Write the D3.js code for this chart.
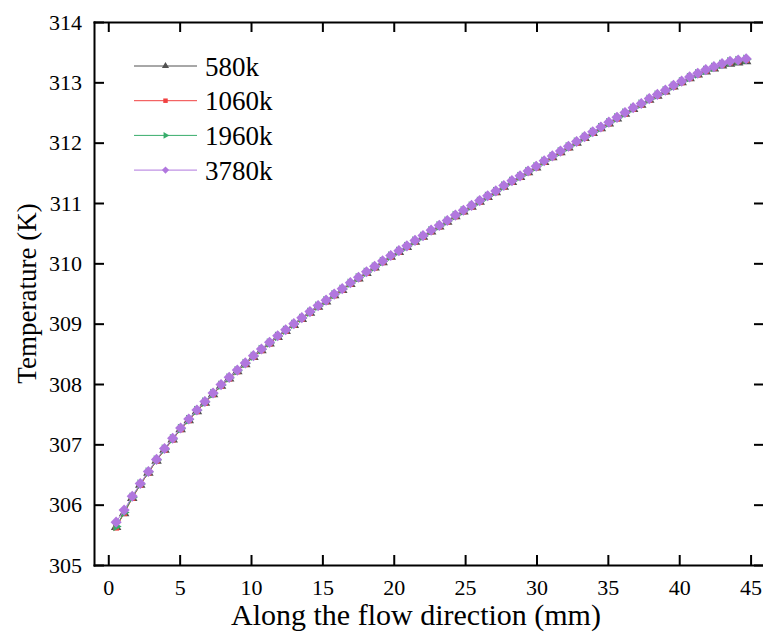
<!DOCTYPE html>
<meta charset="utf-8">
<script src="https://d3js.org/d3.v7.min.js"></script>
<style>
  body { margin: 0; background: #fff; }
  text { font-family: "Liberation Serif", "Times New Roman", serif; fill: #000; }
</style>
<body>
<div id="chart"></div>
<script>

// positions along the flow direction (mm)
var xs = [0.55, 1.11, 1.68, 2.24, 2.81, 3.38, 3.94, 4.51, 5.07, 5.64,
  6.21, 6.77, 7.34, 7.90, 8.47, 9.04, 9.60, 10.17, 10.73, 11.30,
  11.87, 12.43, 13.00, 13.56, 14.13, 14.70, 15.26, 15.83, 16.39, 16.96,
  17.53, 18.09, 18.66, 19.22, 19.79, 20.36, 20.92, 21.49, 22.05, 22.62,
  23.19, 23.75, 24.32, 24.88, 25.45, 26.02, 26.58, 27.15, 27.71, 28.28,
  28.85, 29.41, 29.98, 30.54, 31.11, 31.68, 32.24, 32.81, 33.37, 33.94,
  34.51, 35.07, 35.64, 36.20, 36.77, 37.34, 37.90, 38.47, 39.03, 39.60,
  40.17, 40.73, 41.30, 41.86, 42.43, 43.00, 43.56, 44.13, 44.69];

// temperature (K) for each mesh
var t580 = [305.63, 305.86, 306.11, 306.33, 306.53, 306.73, 306.91, 307.08, 307.25, 307.40,
  307.55, 307.69, 307.83, 307.97, 308.09, 308.21, 308.33, 308.45, 308.56, 308.67,
  308.78, 308.88, 308.98, 309.08, 309.18, 309.28, 309.37, 309.47, 309.56, 309.66,
  309.75, 309.84, 309.93, 310.02, 310.11, 310.19, 310.27, 310.36, 310.44, 310.53,
  310.61, 310.69, 310.78, 310.86, 310.94, 311.02, 311.10, 311.18, 311.27, 311.35,
  311.43, 311.51, 311.59, 311.68, 311.76, 311.84, 311.92, 312.00, 312.08, 312.16,
  312.24, 312.32, 312.40, 312.48, 312.56, 312.63, 312.71, 312.78, 312.85, 312.93,
  313.00, 313.07, 313.13, 313.18, 313.23, 313.28, 313.31, 313.33, 313.35];

var t1060 = [305.62, 305.86, 306.11, 306.33, 306.53, 306.73, 306.91, 307.08, 307.25, 307.40,
  307.55, 307.69, 307.83, 307.97, 308.09, 308.21, 308.33, 308.45, 308.56, 308.67,
  308.78, 308.88, 308.98, 309.08, 309.18, 309.28, 309.37, 309.47, 309.56, 309.66,
  309.75, 309.84, 309.93, 310.02, 310.11, 310.19, 310.27, 310.36, 310.44, 310.53,
  310.61, 310.69, 310.78, 310.86, 310.94, 311.02, 311.10, 311.18, 311.27, 311.35,
  311.43, 311.51, 311.59, 311.68, 311.76, 311.84, 311.92, 312.00, 312.08, 312.16,
  312.24, 312.32, 312.40, 312.48, 312.56, 312.63, 312.71, 312.78, 312.85, 312.93,
  313.00, 313.07, 313.13, 313.19, 313.24, 313.29, 313.33, 313.35, 313.37];

var t1960 = [305.64, 305.87, 306.12, 306.34, 306.54, 306.74, 306.92, 307.09, 307.26, 307.41,
  307.56, 307.70, 307.84, 307.98, 308.10, 308.22, 308.34, 308.46, 308.57, 308.68,
  308.79, 308.89, 308.99, 309.09, 309.19, 309.29, 309.38, 309.48, 309.57, 309.67,
  309.76, 309.85, 309.94, 310.03, 310.12, 310.20, 310.28, 310.37, 310.45, 310.54,
  310.62, 310.70, 310.79, 310.87, 310.95, 311.03, 311.11, 311.19, 311.28, 311.36,
  311.44, 311.52, 311.60, 311.69, 311.77, 311.85, 311.93, 312.01, 312.09, 312.17,
  312.25, 312.33, 312.41, 312.49, 312.57, 312.64, 312.72, 312.79, 312.86, 312.94,
  313.01, 313.08, 313.14, 313.20, 313.25, 313.30, 313.34, 313.36, 313.38];

var t3780 = [305.71, 305.91, 306.14, 306.35, 306.55, 306.75, 306.93, 307.10, 307.27, 307.42,
  307.57, 307.71, 307.85, 307.99, 308.11, 308.23, 308.35, 308.47, 308.58, 308.69,
  308.80, 308.90, 309.00, 309.10, 309.20, 309.30, 309.39, 309.49, 309.58, 309.68,
  309.77, 309.86, 309.95, 310.04, 310.13, 310.21, 310.29, 310.38, 310.46, 310.55,
  310.63, 310.71, 310.80, 310.88, 310.96, 311.04, 311.12, 311.20, 311.29, 311.37,
  311.45, 311.53, 311.61, 311.70, 311.78, 311.86, 311.94, 312.02, 312.10, 312.18,
  312.26, 312.34, 312.42, 312.50, 312.58, 312.65, 312.73, 312.80, 312.87, 312.95,
  313.02, 313.09, 313.15, 313.21, 313.26, 313.31, 313.35, 313.37, 313.39];

var names = ["580k", "1060k", "1960k", "3780k"];
var xTicks = [0, 5, 10, 15, 20, 25, 30, 35, 40, 45];
var yTicks = [305, 306, 307, 308, 309, 310, 311, 312, 313, 314];

// styles (Origin "bright" palette)
var colors = ["#515151", "#F14040", "#37AD6B", "#B177DE"];
var shapes = [d3.symbolTriangle, d3.symbolSquare, d3.symbolTriangle, d3.symbolSquare];
var rotations = [0, 0, 90, 45];
var sizes = [48, 36, 40, 62];
var legendSizes = [22, 20, 20, 26];

var W = 763, H = 632;
// right frame edge sits just past the picture edge, as in the original
var plotL = 94, plotR = 764, plotT = 22, plotB = 565;

var svg = d3.select("#chart")
  .append("svg")
  .attr("width", W)
  .attr("height", H);

var x = d3.scaleLinear()
  .domain([-1, 45.94])
  .range([plotL, plotR]);

var y = d3.scaleLinear()
  .domain([305, 314])
  .range([plotB, plotT]);

// series: line then symbols, later series on top
var series = [t580, t1060, t1960, t3780];

series.forEach(function(vals, k) {
  var pts = xs.map(function(d, i) { return [d, vals[i]]; });

  svg.append("path")
    .datum(pts)
    .attr("fill", "none")
    .attr("stroke", colors[k])
    .attr("stroke-width", 1)
    .attr("d", d3.line()
      .x(function(d) { return x(d[0]); })
      .y(function(d) { return y(d[1]); }));

  svg.append("g")
    .selectAll("path")
    .data(pts)
    .enter()
    .append("path")
    .attr("d", d3.symbol().type(shapes[k]).size(sizes[k]))
    .attr("transform", function(d) {
      return "translate(" + x(d[0]) + "," + y(d[1]) + ") rotate(" + rotations[k] + ")";
    })
    .attr("fill", colors[k]);
});

// axes, ticks pointing inward
function styleAxis(g) {
  g.selectAll(".domain").attr("stroke", "#000").attr("stroke-width", 2).attr("stroke-linecap", "square");
  g.selectAll(".tick line").attr("stroke", "#000").attr("stroke-width", 2);
  g.selectAll(".tick text").style("font-size", "22px").attr("fill", "#000");
}

svg.append("g")
  .attr("transform", "translate(0," + plotB + ")")
  .call(d3.axisBottom(x).tickValues(xTicks).tickSizeInner(-10).tickSizeOuter(0).tickPadding(14))
  .call(styleAxis);

svg.append("g")
  .attr("transform", "translate(0," + plotT + ")")
  .call(d3.axisTop(x).tickValues(xTicks).tickSizeInner(-10).tickSizeOuter(0).tickFormat(""))
  .call(styleAxis);

svg.append("g")
  .attr("transform", "translate(" + plotL + ",0)")
  .call(d3.axisLeft(y).tickValues(yTicks).tickSizeInner(-10).tickSizeOuter(0).tickPadding(12))
  .call(styleAxis);

svg.append("g")
  .attr("transform", "translate(" + plotR + ",0)")
  .call(d3.axisRight(y).tickValues(yTicks).tickSizeInner(-10).tickSizeOuter(0).tickFormat(""))
  .call(styleAxis);

// axis titles
svg.append("text")
  .attr("x", 416)
  .attr("y", 625)
  .attr("text-anchor", "middle")
  .style("font-size", "30px")
  .text("Along the flow direction (mm)");

svg.append("text")
  .attr("transform", "translate(36," + ((plotT + plotB) / 2) + ") rotate(-90)")
  .attr("text-anchor", "middle")
  .style("font-size", "27px")
  .text("Temperature (K)");

// legend
var legend = svg.append("g").attr("transform", "translate(134,66)");

names.forEach(function(n, k) {
  var row = legend.append("g").attr("transform", "translate(0," + (k * 34.7) + ")");
  row.append("line")
    .attr("x1", 0).attr("x2", 63)
    .attr("stroke", colors[k])
    .attr("stroke-width", 1);
  row.append("path")
    .attr("d", d3.symbol().type(shapes[k]).size(legendSizes[k]))
    .attr("transform", "translate(31.5,0) rotate(" + rotations[k] + ")")
    .attr("fill", colors[k]);
  row.append("text")
    .attr("x", 71)
    .attr("y", 9.5)
    .style("font-size", "27px")
    .text(n);
});

</script>
</body>
